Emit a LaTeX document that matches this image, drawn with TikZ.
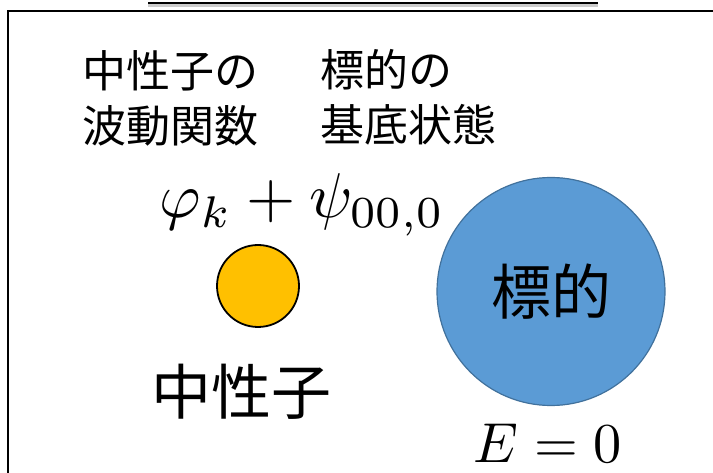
\RequirePackage{fix-cm}
\documentclass[tikz,border=0pt]{standalone}
\usepackage{fontspec}
\newfontfamily\jpfont{Noto Sans CJK JP}
\definecolor{orangefill}{HTML}{FFC000}
\definecolor{bluefill}{HTML}{5B9BD5}
\definecolor{bluedraw}{HTML}{41719C}
\begin{document}
\begin{tikzpicture}[x=1pt,y=-1pt,
  jptext/.style={font=\jpfont\fontsize{44}{55}\selectfont, inner sep=0pt, align=left},
  mathtext/.style={inner sep=0pt}]
\useasboundingbox (0,0) rectangle (713,473);
% top shadowed line
\fill[gray!40] (148,3) rectangle (598,7.5);
\draw[line width=2pt] (148,3) -- (598,3);
% frame
\draw[line width=2.5pt] (8,480) -- (8,11) -- (720,11);
% texts
\node[jptext, align=center] (neutronwave) at (170,98) {中性子の\\波動関数};
\node[jptext, anchor=west] (target1) at (320,70) {標的の};
\node[jptext, anchor=west] (target2) at (320,125) {基底状態};
\node[mathtext] (formula) at (302,205) {\resizebox{285pt}{!}{$\varphi_k+\psi_{\mathrm{00,0}}$}};
% circles
\node[circle, draw=black, line width=1.8pt, fill=orangefill, minimum size=82pt, inner sep=0pt] (neutron) at (258,286) {};
\node[circle, draw=bluedraw, line width=1.2pt, fill=bluefill, minimum size=228pt, inner sep=0pt,
      font=\jpfont\fontsize{60}{60}\selectfont] (target) at (551,291.5) {標的};
\node[inner sep=0pt, font=\jpfont\fontsize{60}{60}\selectfont] (neutronlabel) at (241,392) {中性子};
\node[mathtext] (energy) at (548,443) {\resizebox{148pt}{!}{$E=0$}};
\end{tikzpicture}
\end{document}
